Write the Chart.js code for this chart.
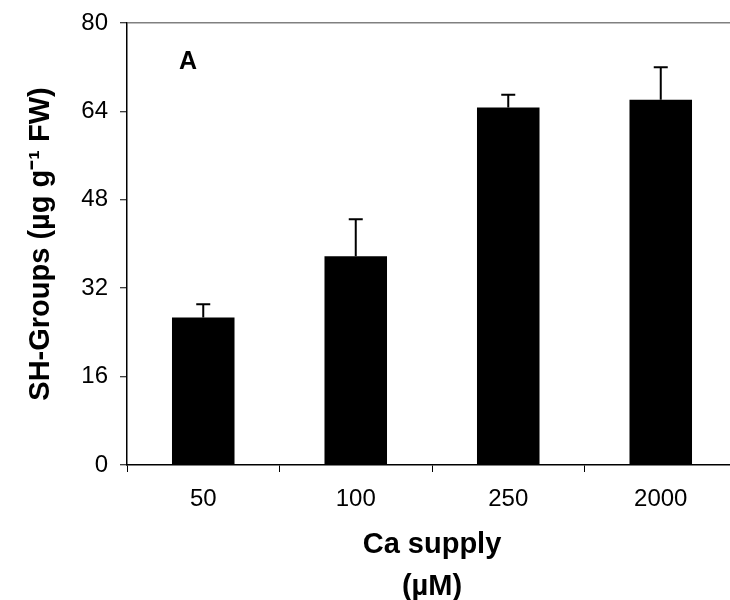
<!DOCTYPE html>
<html>
<head>
<meta charset="utf-8">
<script src="https://cdn.jsdelivr.net/npm/chart.js@4"></script>
<style>
  html, body { margin: 0; padding: 0; background: #fff; overflow: hidden; }
  #wrap { width: 750px; height: 600px; }
</style>
</head>
<body>
<div id="wrap"><canvas id="barChart" width="750" height="600"></canvas></div>
<script>
// Datos
const categories = ['50', '100', '250', '2000'];
const means = [26.7, 37.8, 64.7, 66.1];
const errors = [2.4, 6.7, 2.3, 5.9];
const yTicks = [0, 16, 32, 48, 64, 80];
const panelLabel = 'A';

const FONT = '"Liberation Sans", Arial, Helvetica, sans-serif';

// Barras de error (solo hacia arriba)
const errorBars = {
    id: 'errorBars',
    afterDatasetsDraw(chart) {
        const ctx = chart.ctx;
        const meta = chart.getDatasetMeta(0);
        const y = chart.scales.y;
        ctx.save();
        ctx.strokeStyle = '#000';
        ctx.lineWidth = 2;
        meta.data.forEach((bar, i) => {
            const top = y.getPixelForValue(means[i] + errors[i]);
            ctx.beginPath();
            ctx.moveTo(bar.x, bar.y);
            ctx.lineTo(bar.x, top);
            ctx.moveTo(bar.x - 7, top);
            ctx.lineTo(bar.x + 7, top);
            ctx.stroke();
        });
        ctx.restore();
    }
};

// Letra del panel
const panelText = {
    id: 'panelText',
    afterDraw(chart) {
        const ctx = chart.ctx;
        const area = chart.chartArea;
        ctx.save();
        ctx.fillStyle = '#000';
        ctx.font = 'bold 25px ' + FONT;
        ctx.textAlign = 'center';
        ctx.textBaseline = 'middle';
        ctx.fillText(panelLabel, area.left + 61, area.top + 39);
        ctx.restore();
    }
};

const config = {
    type: 'bar',
    data: {
        labels: categories,
        datasets: [{
            data: means,
            backgroundColor: '#000',
            borderWidth: 0,
            categoryPercentage: 1,
            barPercentage: 0.41
        }]
    },
    options: {
        responsive: false,
        animation: false,
        events: [],
        layout: { padding: { top: 23, right: 13, bottom: 0, left: 0 } },
        plugins: {
            legend: { display: false },
            tooltip: { enabled: false }
        },
        scales: {
            x: {
                offset: true,
                grid: {
                    offset: true,
                    drawOnChartArea: false,
                    tickLength: 7,
                    tickColor: '#000',
                    tickWidth: 1
                },
                border: { color: '#000', width: 1.5 },
                ticks: {
                    color: '#000',
                    padding: 13,
                    font: { family: FONT, size: 24 }
                },
                title: {
                    display: true,
                    text: ['Ca supply', '(µM)'],
                    color: '#000',
                    font: { family: FONT, size: 29, weight: 'bold', lineHeight: 1.45 },
                    padding: { top: 0, bottom: -8 }
                },
                afterFit(scale) {
                    scale.height = 135;
                    scale.paddingLeft = 0;
                    scale.paddingRight = 0;
                }
            },
            y: {
                min: 0,
                max: 80,
                afterBuildTicks(scale) {
                    scale.ticks = yTicks.map(v => ({ value: v }));
                },
                grid: {
                    color: c => (c.tick && c.tick.value === 80) ? '#808080' : 'rgba(0,0,0,0)',
                    lineWidth: 1.5,
                    tickLength: 7,
                    tickColor: '#000',
                    tickWidth: 1
                },
                border: { color: '#000', width: 1.5 },
                ticks: {
                    color: '#000',
                    padding: 12,
                    font: { family: FONT, size: 24 }
                },
                title: {
                    display: true,
                    text: 'SH-Groups (µg g⁻¹ FW)',
                    color: '#000',
                    font: { family: FONT, size: 29, weight: 'bold', lineHeight: 1.2 },
                    padding: { top: 24, bottom: 0 }
                },
                afterFit(scale) {
                    scale.width = 127;
                    scale.paddingTop = 0;
                    scale.paddingBottom = 0;
                }
            }
        }
    },
    plugins: [errorBars, panelText]
};

const ctx = document.getElementById('barChart').getContext('2d');
const myChart = new Chart(ctx, config);
</script>
</body>
</html>
